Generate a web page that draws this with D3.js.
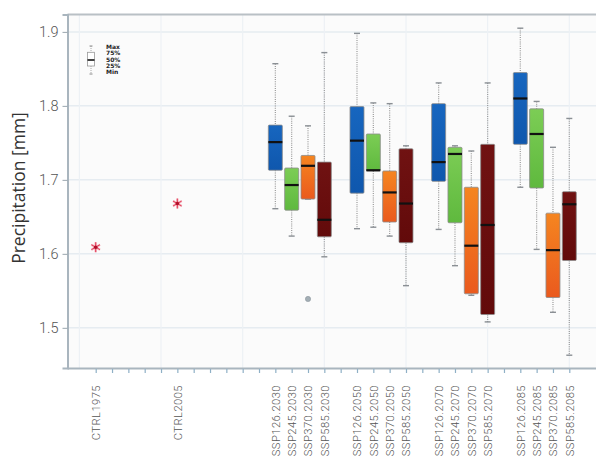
<!DOCTYPE html>
<html><head><meta charset="utf-8">
<script src="https://cdn.jsdelivr.net/npm/d3@7"></script>
<style>body{margin:0;background:#fff;}svg{display:block;}</style>
</head><body>
<svg id="chart" width="596" height="461"></svg>
<script>
// ---------- data ----------
const categories = ["CTRL1975","","","","","CTRL2005","","","","","",
  "SSP126.2030","SSP245.2030","SSP370.2030","SSP585.2030","",
  "SSP126.2050","SSP245.2050","SSP370.2050","SSP585.2050","",
  "SSP126.2070","SSP245.2070","SSP370.2070","SSP585.2070","",
  "SSP126.2085","SSP245.2085","SSP370.2085","SSP585.2085"];
const boxCats = ["SSP126.2030","SSP245.2030","SSP370.2030","SSP585.2030",
  "SSP126.2050","SSP245.2050","SSP370.2050","SSP585.2050",
  "SSP126.2070","SSP245.2070","SSP370.2070","SSP585.2070",
  "SSP126.2085","SSP245.2085","SSP370.2085","SSP585.2085"];
const boxMin = [1.661,1.624,1.674,1.596, 1.634,1.636,1.624,1.557, 1.633,1.584,1.544,1.508, 1.690,1.606,1.521,1.463];
const boxQ1  = [1.713,1.659,1.674,1.623, 1.682,1.712,1.643,1.615, 1.698,1.642,1.546,1.518, 1.748,1.689,1.541,1.591];
const boxMed = [1.751,1.693,1.719,1.646, 1.753,1.713,1.683,1.668, 1.724,1.735,1.611,1.639, 1.810,1.762,1.605,1.667];
const boxQ3  = [1.774,1.716,1.733,1.724, 1.799,1.762,1.712,1.742, 1.803,1.744,1.690,1.748, 1.845,1.796,1.655,1.684];
const boxMax = [1.857,1.786,1.773,1.872, 1.898,1.804,1.803,1.746, 1.831,1.746,1.739,1.831, 1.905,1.806,1.744,1.783];
const ctrlCats = ["CTRL1975","CTRL2005"];
const ctrlValues = [1.609,1.668];
const outlierCats = ["SSP370.2030"];
const outlierValues = [1.539];
const yTicks = [1.5,1.6,1.7,1.8,1.9];
const legendLabels = ["Max","75%","50%","25%","Min"];

// ---------- layout ----------
const svg = d3.select("#chart");
const L = 67.5, T = 14.5, R = 600, B = 368;
const x = d3.scalePoint().domain(d3.range(categories.length)).range([95.7, 569.3]);
const y = d3.scaleLinear().domain([1.4457, 1.9235]).range([B, T]);
const idx = name => categories.indexOf(name);
const step = x.step();

const defs = svg.append("defs");
function grad(id, c1, c2){
  const g = defs.append("linearGradient").attr("id", id).attr("x1",0).attr("y1",0).attr("x2",0).attr("y2",1);
  g.append("stop").attr("offset","0%").attr("stop-color",c1);
  g.append("stop").attr("offset","100%").attr("stop-color",c2);
}
grad("g126","#1766bf","#0f57ad");
grad("g245","#7ccd55","#5fb93e");
grad("g370","#f58520","#ea5a1e");
grad("g585","#701212","#620a0a");
const fillFor = name => "url(#g" + name.slice(3,6) + ")";

// plot background
svg.append("rect").attr("x",L).attr("y",T).attr("width",R-L).attr("height",B-T).attr("fill","#fbfbfb");

// gridlines
svg.append("g").selectAll("line").data(yTicks).join("line")
  .attr("x1",L).attr("x2",R).attr("y1",d=>y(d)).attr("y2",d=>y(d))
  .attr("stroke","#e6ecf1").attr("stroke-width",1.5);
const vgrid = [x(0)-step, x(4), x(9), x(14), x(19), x(24), x(29)];
svg.append("g").selectAll("line").data(vgrid).join("line")
  .attr("x1",d=>d).attr("x2",d=>d).attr("y1",T).attr("y2",B)
  .attr("stroke","#edf1f5").attr("stroke-width",1.2);

// top border
svg.append("line").attr("x1",L).attr("x2",R).attr("y1",T).attr("y2",T).attr("stroke","#b9c0c5").attr("stroke-width",2);

// y axis
const yAxis = svg.append("g").attr("transform",`translate(${L},0)`)
  .call(d3.axisLeft(y).tickValues(yTicks).tickFormat(d3.format(".1f")).tickSize(5).tickPadding(4));
yAxis.select(".domain").attr("stroke","#a9b5be").attr("stroke-width",2);
yAxis.selectAll(".tick line").attr("stroke","#9aa6ae");
yAxis.selectAll("text").attr("font-family","Roboto").attr("font-weight",300).attr("font-size",14.5).attr("fill","#555");

// x axis
const xAxis = svg.append("g").attr("transform",`translate(0,${B})`)
  .call(d3.axisBottom(x).tickFormat(i=>categories[i]).tickSize(5).tickSizeOuter(0));
xAxis.select(".domain").attr("stroke","#a9b5be").attr("stroke-width",2).attr("d",`M${L},0.5H${R}`);
xAxis.selectAll(".tick line").attr("stroke","#8fb0c6").attr("stroke-width",1.2).attr("y1",1);
xAxis.selectAll("text")
  .attr("font-family","Roboto").attr("font-weight",300).attr("font-size",11.2).attr("fill","#555")
  .attr("letter-spacing","0.45px")
  .attr("transform","rotate(-90)").attr("text-anchor","end")
  .attr("x",-17).attr("y",0).attr("dy","0.35em");

// y label
svg.append("text").attr("transform","translate(25,188) rotate(-90)")
  .attr("text-anchor","middle").attr("font-family","Open Sans").attr("font-size",17.5)
  .attr("fill","#333").text("Precipitation [mm]");

// boxes
const bw = 14, cw = 6;
const boxes = svg.append("g").selectAll("g").data(boxCats).join("g")
  .attr("transform",d=>`translate(${x(idx(d))},0)`);
boxes.append("line").attr("x1",0).attr("x2",0).attr("y1",(d,i)=>y(boxMax[i])).attr("y2",(d,i)=>y(boxQ3[i]))
  .attr("stroke","#9a9a9a").attr("stroke-width",1.2).attr("stroke-dasharray","1,1.2");
boxes.append("line").attr("x1",0).attr("x2",0).attr("y1",(d,i)=>y(boxQ1[i])).attr("y2",(d,i)=>y(boxMin[i]))
  .attr("stroke","#9a9a9a").attr("stroke-width",1.2).attr("stroke-dasharray","1,1.2");
boxes.append("line").attr("x1",-cw/2).attr("x2",cw/2).attr("y1",(d,i)=>y(boxMax[i])).attr("y2",(d,i)=>y(boxMax[i]))
  .attr("stroke","#8a8f94").attr("stroke-width",1.4);
boxes.append("line").attr("x1",-cw/2).attr("x2",cw/2).attr("y1",(d,i)=>y(boxMin[i])).attr("y2",(d,i)=>y(boxMin[i]))
  .attr("stroke","#8a8f94").attr("stroke-width",1.4);
boxes.append("rect").attr("x",-bw/2).attr("width",bw)
  .attr("y",(d,i)=>y(boxQ3[i])).attr("height",(d,i)=>y(boxQ1[i])-y(boxQ3[i]))
  .attr("fill",d=>fillFor(d)).attr("stroke","#8c8c8c").attr("stroke-width",0.8).attr("rx",1);
boxes.append("line").attr("x1",-bw/2).attr("x2",bw/2).attr("y1",(d,i)=>y(boxMed[i])).attr("y2",(d,i)=>y(boxMed[i]))
  .attr("stroke","#111").attr("stroke-width",2.2);

// outliers
svg.append("g").selectAll("circle").data(outlierCats).join("circle")
  .attr("cx",d=>x(idx(d))).attr("cy",(d,i)=>y(outlierValues[i])).attr("r",2.6)
  .attr("fill","#a3aeb5").attr("stroke","#8d979d").attr("stroke-width",0.6);

// control points (stars)
const star = d3.symbol(d3.symbolAsterisk, 70);
const cp = svg.append("g").selectAll("g").data(ctrlCats).join("g")
  .attr("transform",(d,i)=>`translate(${x(idx(d))},${y(ctrlValues[i])})`);
cp.append("path").attr("d",star).attr("stroke","#f4b3be").attr("stroke-width",2.4).attr("fill","none");
cp.append("path").attr("d",star).attr("stroke","#e0304c").attr("stroke-width",0.9).attr("fill","none");
cp.append("circle").attr("r",1.8).attr("fill","#b0102a");

// legend
const lg = svg.append("g").attr("transform","translate(91,0)");
lg.append("line").attr("x1",0).attr("x2",0).attr("y1",46).attr("y2",74).attr("stroke","#aaa").attr("stroke-dasharray","1,1");
lg.append("rect").attr("x",-3.5).attr("y",52.3).attr("width",7).attr("height",13.7).attr("fill","#fff").attr("stroke","#999").attr("stroke-width",0.8);
lg.append("line").attr("x1",-3.5).attr("x2",3.5).attr("y1",60).attr("y2",60).attr("stroke","#111").attr("stroke-width",1.6);
lg.append("line").attr("x1",-1.5).attr("x2",1.5).attr("y1",46).attr("y2",46).attr("stroke","#888");
lg.append("line").attr("x1",-1.5).attr("x2",1.5).attr("y1",74).attr("y2",74).attr("stroke","#888");
lg.selectAll("text").data(legendLabels).join("text")
  .attr("x",15).attr("y",(d,i)=>47+i*6.2).attr("dy","0.35em")
  .attr("font-family","DejaVu Sans").attr("font-weight","bold").attr("font-size",6).attr("fill","#222")
  .text(d=>d);
</script>
</body></html>
